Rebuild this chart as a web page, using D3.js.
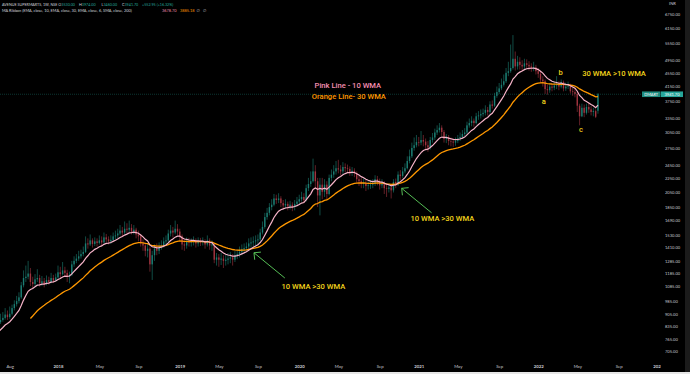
<!DOCTYPE html>
<html>
<head>
<meta charset="utf-8">
<script src="https://cdn.jsdelivr.net/npm/d3@7"></script>
<style>
  html, body { margin: 0; padding: 0; background: #000; overflow: hidden; }
</style>
</head>
<body>
<div id="chart"></div>
<script>
// DMART weekly candles (first bar = listing week)
var firstWeek = "2017-03-20";
var listingOpen = 604;

var closes = [
  642,632,690,712,745,733,760,795,780,805,
  818,790,835,842,820,855,868,880,900,885,
  905,940,965,985,1010,1095,1150,1160,1185,1120,
  1105,1140,1150,1110,1125,1105,1135,1120,1150,1130,
  1155,1195,1180,1210,1190,1160,1175,1260,1290,1310,
  1330,1350,1370,1450,1440,1480,1445,1470,1455,1480,
  1460,1510,1490,1470,1485,1520,1530,1550,1580,1560,
  1600,1590,1610,1570,1590,1540,1520,1450,1430,1380,
  1400,1260,1340,1400,1380,1420,1430,1470,1480,1550,
  1580,1560,1600,1570,1520,1440,1430,1470,1460,1465,
  1480,1450,1475,1460,1470,1440,1480,1430,1440,1300,
  1320,1300,1310,1290,1300,1310,1320,1300,1340,1350,
  1370,1395,1405,1420,1450,1460,1470,1480,1490,1560,
  1620,1730,1780,1850,1880,1960,1940,1960,1900,1870,
  1890,1860,1880,1850,1890,1920,1950,1980,1940,2100,
  2160,2200,2350,2200,2000,2150,2050,2150,2020,2250,
  2300,2350,2400,2380,2350,2420,2400,2390,2330,2360,
  2320,2230,2200,2160,2180,2130,2140,2150,2160,2230,
  2200,2140,2180,2100,2090,2110,2070,2190,2150,2300,
  2280,2350,2400,2520,2600,2750,2800,2860,2850,2900,
  2870,2800,2760,2900,2950,3050,3100,3150,3060,2920,
  2950,2880,2870,2850,2880,2930,2960,3020,3050,3200,
  3250,3300,3250,3400,3420,3450,3480,3550,3500,3680,
  3650,3900,4000,4100,4200,4300,4550,4600,4700,5000,
  4750,4900,4800,4750,4850,4800,4750,4700,4720,4600,
  4520,4350,4300,4080,4050,4150,4120,4180,4200,4150,
  4280,4100,4150,4180,4020,4000,3950,3650,3400,3600,
  3480,3620,3560,3500,3520,3388.75
];

var highs = [
  672,668,700,730,760,770,775,815,810,830,
  845,830,850,868,855,872,905,915,940,925,
  950,962,990,1020,1045,1120,1210,1250,1290,1230,
  1160,1180,1220,1175,1165,1150,1170,1160,1190,1175,
  1185,1250,1240,1280,1240,1215,1200,1290,1330,1350,
  1380,1390,1420,1520,1500,1540,1500,1510,1500,1530,
  1520,1560,1545,1520,1530,1560,1580,1600,1640,1620,
  1680,1660,1690,1650,1640,1610,1580,1545,1490,1460,
  1450,1420,1380,1440,1450,1460,1480,1510,1530,1590,
  1640,1620,1690,1650,1600,1540,1480,1510,1505,1500,
  1520,1500,1510,1505,1510,1490,1530,1500,1480,1455,
  1360,1350,1360,1340,1345,1360,1370,1350,1380,1390,
  1420,1440,1450,1460,1500,1510,1520,1530,1540,1600,
  1680,1780,1840,1900,1950,2020,2010,2030,1990,1940,
  1950,1920,1930,1910,1940,1980,2010,2050,2030,2150,
  2250,2350,2560,2450,2250,2250,2250,2230,2200,2300,
  2380,2450,2520,2540,2450,2500,2480,2460,2430,2420,
  2400,2350,2280,2250,2240,2220,2200,2220,2230,2290,
  2280,2240,2230,2200,2150,2170,2150,2230,2240,2350,
  2370,2420,2480,2600,2720,2850,2950,3000,2960,3080,
  3000,2930,2880,2960,3040,3130,3200,3250,3200,3100,
  3020,3000,2950,2930,2950,3000,3050,3100,3140,3280,
  3350,3400,3350,3480,3520,3560,3580,3660,3620,3760,
  3780,3980,4150,4250,4380,4500,4700,4900,5500,5860,
  5250,5100,5050,4950,5000,4980,4920,4850,4900,4800,
  4700,4600,4450,4350,4200,4250,4230,4300,4450,4300,
  4350,4320,4260,4290,4230,4120,4120,4000,3700,3700,
  3680,3700,3720,3640,3600,3560
];

var lows = [
  600,615,625,680,700,720,725,750,765,770,
  795,775,782,820,805,812,845,858,870,868,
  875,895,925,950,970,1000,1080,1120,1140,1090,
  1070,1090,1120,1085,1090,1080,1095,1100,1110,1115,
  1120,1145,1150,1170,1160,1120,1110,1165,1240,1270,
  1290,1310,1330,1360,1400,1425,1410,1425,1420,1440,
  1430,1450,1460,1440,1445,1470,1490,1500,1530,1520,
  1545,1550,1565,1540,1540,1500,1470,1420,1380,1330,
  1320,1200,1135,1290,1340,1350,1390,1410,1440,1460,
  1520,1510,1540,1530,1480,1390,1380,1400,1420,1420,
  1430,1410,1420,1425,1430,1400,1420,1390,1380,1270,
  1250,1240,1255,1230,1250,1260,1270,1250,1280,1305,
  1320,1340,1360,1370,1390,1410,1420,1430,1440,1470,
  1540,1600,1700,1750,1810,1860,1890,1900,1850,1820,
  1830,1810,1820,1800,1810,1860,1890,1920,1900,1920,
  2060,2120,2180,2100,1850,1750,1950,1980,1950,2000,
  2200,2250,2300,2320,2290,2310,2340,2330,2280,2280,
  2260,2180,2130,2100,2100,2060,2080,2090,2100,2130,
  2140,2080,2100,2020,1980,2040,1960,2040,2100,2130,
  2220,2250,2320,2380,2480,2570,2700,2760,2780,2800,
  2780,2720,2680,2720,2850,2900,3000,3050,2980,2850,
  2840,2800,2780,2770,2790,2840,2880,2920,2980,3010,
  3150,3180,3170,3220,3320,3350,3390,3420,3420,3460,
  3580,3620,3850,3950,4050,4150,4250,4450,4550,4650,
  4620,4650,4650,4600,4650,4680,4620,4580,4600,4500,
  4400,4250,4150,3950,3930,3980,4020,4050,4080,4050,
  4100,4020,4030,4080,3960,3900,3860,3500,3200,3380,
  3380,3440,3480,3420,3400,3360
];

// current (last) weekly bar, as in the header
var lastBar = {open: 3530.00, high: 3974.00, low: 3460.00, close: 3941.70};
var ribbonValues = ["3678.70", "3885.18"];

var priceTicks = [6750, 6150, 5550, 4950, 4550, 4150, 3750, 3350, 3050, 2750, 2450,
  2250, 2050, 1850, 1690, 1530, 1410, 1285, 1185, 1085, 985, 905, 835, 765, 705];

var timeTicks = [
  ["2017-08-07", "Aug"], ["2018-01-01", "2018"], ["2018-05-07", "May"], ["2018-09-03", "Sep"],
  ["2019-01-07", "2019"], ["2019-05-06", "May"], ["2019-09-02", "Sep"],
  ["2020-01-06", "2020"], ["2020-05-04", "May"], ["2020-09-07", "Sep"],
  ["2021-01-04", "2021"], ["2021-05-03", "May"], ["2021-09-06", "Sep"],
  ["2022-01-03", "2022"], ["2022-05-02", "May"], ["2022-09-05", "Sep"],
  ["2023-01-02", "2023"]
];

var notes = [
  {text: "Pink Line - 10 WMA",  date: "2020-06-02", price: 4169, color: "#f48fb1"},
  {text: "Orange Line- 30 WMA", date: "2020-06-05", price: 3873, color: "#ff9800"},
  {text: "30 WMA >10 WMA",      date: "2022-08-22", price: 4537, color: "#f2d31b"},
  {text: "10 WMA >30 WMA",      date: "2021-03-17", price: 1713, color: "#f2d31b"},
  {text: "10 WMA >30 WMA",      date: "2020-02-18", price: 1086, color: "#f2d31b"},
  {text: "a", date: "2022-01-20", price: 3762, color: "#f2d31b"},
  {text: "b", date: "2022-03-12", price: 4568, color: "#f2d31b"},
  {text: "c", date: "2022-05-13", price: 3119, color: "#f2d31b"}
];

var arrows = [
  {from: ["2021-02-12", 1781], to: ["2020-11-13", 2098]},
  {from: ["2019-11-23", 1150], to: ["2019-08-21", 1362]}
];

//////////////////////////////////////////////////////////
var W = 690, H = 374;
var paneRight = 661, paneBottom = 357;
var upCol = "#1b7d72", downCol = "#a0343f";
var smallFont = "Lato, 'DejaVu Sans', sans-serif";

var parse = d3.utcParse("%Y-%m-%d");
var t0 = parse(firstWeek);

var bars = closes.map(function(c, i) {
  return {date: d3.utcDay.offset(t0, 7 * i), open: i ? closes[i - 1] : listingOpen,
          high: highs[i], low: lows[i], close: c};
});
bars.push({date: d3.utcDay.offset(t0, 7 * closes.length), open: lastBar.open,
           high: lastBar.high, low: lastBar.low, close: lastBar.close});

// tradingview style ema: na for first n-1 bars, seeded with the sma
function ema(values, n) {
  var k = 2 / (n + 1), prev = null;
  return values.map(function(v, i) {
    if (i < n - 1) return null;
    if (prev === null) prev = d3.mean(values.slice(0, n));
    else prev = prev + k * (v - prev);
    return prev;
  });
}
var allCloses = bars.map(function(d) { return d.close; });
var ema10 = ema(allCloses, 10);
var ema30 = ema(allCloses, 30);

var x = d3.scaleUtc()
  .domain([parse("2018-01-01"), parse("2023-01-02")])
  .range([58, 657.7]);
var y = d3.scaleLog()
  .domain([705, 6750])
  .range([351, 14]);

var svg = d3.select("#chart").append("svg")
  .attr("width", W).attr("height", H)
  .style("display", "block");

svg.append("rect").attr("width", W).attr("height", H).attr("fill", "#000");

svg.append("clipPath").attr("id", "pane")
  .append("rect").attr("x", 0).attr("y", 0).attr("width", paneRight).attr("height", paneBottom);

var pane = svg.append("g").attr("clip-path", "url(#pane)");

// last price line
pane.append("line")
  .attr("x1", 0).attr("x2", paneRight)
  .attr("y1", y(lastBar.close)).attr("y2", y(lastBar.close))
  .attr("stroke", "#26a69a").attr("stroke-opacity", 0.4)
  .attr("stroke-width", 0.8).attr("stroke-dasharray", "1,1");

// candles
var candle = pane.append("g").selectAll("g")
  .data(bars).enter().append("g");

candle.append("line")
  .attr("x1", function(d) { return x(d.date); })
  .attr("x2", function(d) { return x(d.date); })
  .attr("y1", function(d) { return y(d.high); })
  .attr("y2", function(d) { return y(d.low); })
  .attr("stroke", function(d) { return d.close >= d.open ? upCol : downCol; })
  .attr("stroke-width", 0.6);

candle.append("rect")
  .attr("x", function(d) { return x(d.date) - 0.7; })
  .attr("width", 1.4)
  .attr("y", function(d) { return y(Math.max(d.open, d.close)); })
  .attr("height", function(d) {
    return Math.max(0.6, y(Math.min(d.open, d.close)) - y(Math.max(d.open, d.close)));
  })
  .attr("fill", function(d) { return d.close >= d.open ? upCol : downCol; });

// ema ribbon
function emaLine(vals) {
  return d3.line()
    .defined(function(d, i) { return vals[i] !== null; })
    .x(function(d) { return x(d.date); })
    .y(function(d, i) { return y(vals[i]); })(bars);
}
pane.append("path").attr("d", emaLine(ema30))
  .attr("fill", "none").attr("stroke", "#ff9800").attr("stroke-width", 1.3);
pane.append("path").attr("d", emaLine(ema10))
  .attr("fill", "none").attr("stroke", "#f7b4c9").attr("stroke-width", 1.2);

// annotations
pane.append("g").selectAll("text")
  .data(notes).enter().append("text")
  .attr("x", function(d) { return x(parse(d.date)); })
  .attr("y", function(d) { return y(d.price); })
  .attr("text-anchor", "middle")
  .attr("dominant-baseline", "central")
  .attr("font-family", "Roboto, sans-serif")
  .attr("font-weight", 500)
  .attr("font-size", 7.6)
  .attr("fill", function(d) { return d.color; })
  .text(function(d) { return d.text; });

var arrowG = pane.append("g")
  .attr("stroke", "#5fd35f").attr("stroke-width", 0.9).attr("fill", "none");
arrows.forEach(function(a) {
  var x1 = x(parse(a.from[0])), y1 = y(a.from[1]);
  var x2 = x(parse(a.to[0])), y2 = y(a.to[1]);
  var ang = Math.atan2(y1 - y2, x1 - x2), len = 7, spread = 0.78;
  arrowG.append("path")
    .attr("d", "M" + x1 + "," + y1 + "L" + x2 + "," + y2 +
      "M" + (x2 + len * Math.cos(ang - spread)) + "," + (y2 + len * Math.sin(ang - spread)) +
      "L" + x2 + "," + y2 +
      "L" + (x2 + len * Math.cos(ang + spread)) + "," + (y2 + len * Math.sin(ang + spread)));
});

// time axis
var tickMap = {};
timeTicks.forEach(function(t) { tickMap[t[0]] = t[1]; });
var fmtDay = d3.utcFormat("%Y-%m-%d");
var xAxis = svg.append("g")
  .attr("transform", "translate(0," + paneBottom + ")")
  .call(d3.axisBottom(x)
    .tickValues(timeTicks.map(function(t) { return parse(t[0]); }))
    .tickFormat(function(d) { return tickMap[fmtDay(d)]; })
    .tickSize(0).tickPadding(7.5));
xAxis.select(".domain").remove();
xAxis.selectAll("text")
  .attr("font-family", smallFont).attr("font-size", 4.3)
  .attr("font-weight", function(d) { return /^\d/.test(tickMap[fmtDay(d)]) ? 700 : 400; })
  .attr("fill", "#c8cad0");

// price axis
svg.append("rect").attr("x", paneRight).attr("y", 0)
  .attr("width", W - paneRight).attr("height", H).attr("fill", "#000");
var yAxis = svg.append("g")
  .attr("transform", "translate(665,0)")
  .call(d3.axisRight(y).tickValues(priceTicks)
    .tickFormat(d3.format(".2f")).tickSize(0).tickPadding(0));
yAxis.select(".domain").remove();
yAxis.selectAll("text")
  .attr("font-family", smallFont).attr("font-size", 4.1).attr("fill", "#c8cad0");
svg.append("text").attr("x", 669).attr("y", 5)
  .attr("font-family", smallFont).attr("font-size", 4.1).attr("fill", "#c8cad0")
  .text("INR");

// symbol + last price label
var yl = y(lastBar.close);
svg.append("rect").attr("x", 642).attr("y", yl - 2.8).attr("width", 18.5).attr("height", 5.6)
  .attr("fill", "#1e8c80");
svg.append("rect").attr("x", 661).attr("y", yl - 2.8).attr("width", 22).attr("height", 5.6)
  .attr("fill", "#26a69a");
svg.append("text").attr("x", 651.2).attr("y", yl).attr("dy", "0.35em")
  .attr("text-anchor", "middle").attr("font-family", smallFont).attr("font-size", 3.9)
  .attr("fill", "#fff").text("DMART");
svg.append("text").attr("x", 672).attr("y", yl).attr("dy", "0.35em")
  .attr("text-anchor", "middle").attr("font-family", smallFont).attr("font-size", 4.1)
  .attr("fill", "#fff").text(d3.format(".2f")(lastBar.close));

// header
var f2 = d3.format(".2f");
var prevClose = closes[closes.length - 1];
var chg = lastBar.close - prevClose;
var head1 = svg.append("text").attr("y", 5.8)
  .attr("font-family", smallFont).attr("font-size", 3.7).attr("fill", "#d1d4dc");
head1.append("tspan").attr("x", 2).text("AVENUE SUPERMARTS, 1W, NSE");
[["O", lastBar.open, 58.3], ["H", lastBar.high, 79], ["L", lastBar.low, 101.5], ["C", lastBar.close, 122]]
  .forEach(function(p) {
    head1.append("tspan").attr("x", p[2]).attr("fill", "#d1d4dc").text(p[0]);
    head1.append("tspan").attr("fill", "#26a69a").text(f2(p[1]));
  });
head1.append("tspan").attr("x", 142).attr("fill", "#26a69a")
  .text("+" + f2(chg) + " (+" + f2(chg / prevClose * 100) + "%)");

var head2 = svg.append("text").attr("y", 12.2)
  .attr("font-family", smallFont).attr("font-size", 3.9).attr("fill", "#d1d4dc");
head2.append("tspan").attr("x", 2)
  .text("MA Ribbon (EMA, close, 10, EMA, close, 30, EMA, close, 6, SMA, close, 200)");
head2.append("tspan").attr("x", 162).attr("fill", "#f48fb1").text(ribbonValues[0]);
head2.append("tspan").attr("x", 180).attr("fill", "#ff9800").text(ribbonValues[1]);
head2.append("tspan").attr("x", 196.5).attr("fill", "#d1d4dc").text("\u2205");
head2.append("tspan").attr("x", 203).attr("fill", "#d1d4dc").text("\u2205");

// screenshot edges
svg.append("rect").attr("x", 685).attr("y", 0).attr("width", 5).attr("height", H).attr("fill", "#1b1b1b");
svg.append("rect").attr("x", 0).attr("y", 372).attr("width", W).attr("height", 2).attr("fill", "#e6e6e6");
</script>
</body>
</html>
